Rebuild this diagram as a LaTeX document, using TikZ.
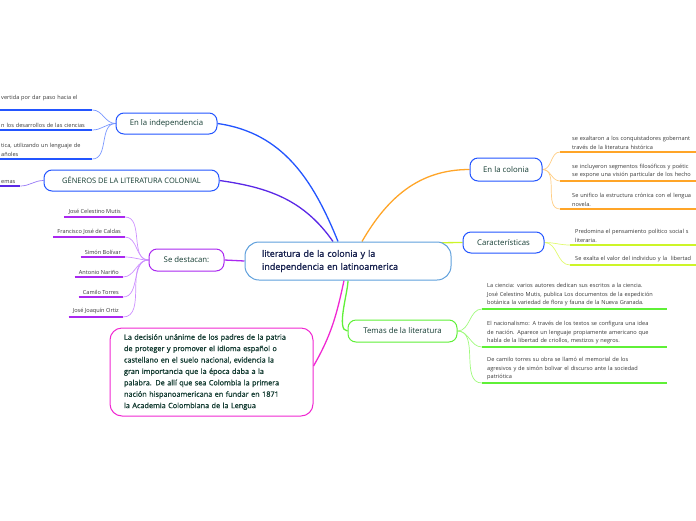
\documentclass[tikz,border=0pt]{standalone}
\usepackage{fontspec}
\setmainfont{Open Sans}
\newfontfamily\semib[FakeBold=1.2]{Open Sans}
\usetikzlibrary{positioning,backgrounds}
\definecolor{HubBlue}{RGB}{95,160,220}
\definecolor{HubText}{RGB}{25,35,80}
\definecolor{TopicText}{RGB}{20,60,50}
\definecolor{LeafText}{RGB}{55,55,55}
\definecolor{MapBlue}{RGB}{35,85,255}
\definecolor{MapBlueLight}{RGB}{120,150,255}
\definecolor{MapIndigo}{RGB}{90,40,230}
\definecolor{MapIndigoLight}{RGB}{150,120,245}
\definecolor{MapPurple}{RGB}{170,40,240}
\definecolor{MapPurpleLight}{RGB}{205,145,255}
\definecolor{MapOrange}{RGB}{255,165,40}
\definecolor{MapOrangeLight}{RGB}{255,205,130}
\definecolor{MapYellow}{RGB}{205,245,40}
\definecolor{MapYellowLight}{RGB}{225,250,110}
\definecolor{MapGreen}{RGB}{95,240,55}
\definecolor{MapGreenLight}{RGB}{160,250,125}
\definecolor{MapMagenta}{RGB}{240,40,210}

\begin{document}
\begin{tikzpicture}[x=1pt,y=-1pt,
hub/.style={rectangle,rounded corners=14pt,draw=HubBlue,line width=1pt,fill=white,text=HubText,align=left,text width=172pt,inner xsep=17pt,minimum height=38pt,font=\semib\fontsize{9}{13}\selectfont},
box/.style={rectangle,rounded corners=8pt,line width=1pt,fill=white,text=TopicText,minimum height=21pt,inner xsep=0pt,font=\fontsize{7.8}{10}\selectfont},
leaf/.style={inner xsep=4pt,inner ysep=2.5pt,text=LeafText,font=\fontsize{5.6}{8.6}\selectfont},
under/.style={line width=1.4pt},
link/.style={line width=0.7pt},
main/.style={line width=1.3pt}]
\useasboundingbox (0,0) rectangle (696,520);

% centre and topics
\node[hub] (lit) at (348,261) {literatura de la colonia y la\\independencia en latinoamerica};
\node[box,draw=MapBlue,minimum width=101pt] (indep) at (166.5,123.5) {En la independencia};
\node[box,draw=MapBlue,minimum width=175pt,font=\fontsize{7.5}{10}\selectfont] (gen) at (131.5,180.5) {GÉNEROS DE LA LITERATURA COLONIAL};
\node[box,draw=MapPurple,minimum width=75pt,minimum height=22pt] (dest) at (186.5,260) {Se destacan:};
\node[box,draw=MapBlue,minimum width=72pt,minimum height=23pt] (col) at (506,169.5) {En la colonia};
\node[box,draw=MapBlue,minimum width=81pt] (car) at (503.5,242.5) {Características};
\node[box,draw=MapGreen,minimum width=109pt,minimum height=22pt] (tem) at (402.5,331) {Temas de la literatura};
\node[box,draw=MapMagenta,rounded corners=12pt,minimum width=203pt,minimum height=88pt,inner xsep=14pt,text width=175pt,align=left,font=\semib\fontsize{7.3}{11.4}\selectfont] (dec) at (211.5,372)
{La decisión unánime de los padres de la patria\\de proteger y promover el idioma español o\\castellano en el suelo nacional, evidencia la\\gran importancia que la época daba a la\\palabra. De allí que sea Colombia la primera\\nación hispanoamericana en fundar en 1871\\la Academia Colombiana de la Lengua};

% left leaves
\node[leaf,anchor=south west,inner xsep=1pt,inner ysep=9pt,text width=90pt,align=left] (i1) at (0,110) {vertida por dar paso hacia el};
\node[leaf,anchor=south west,inner xsep=1pt,text width=90pt,align=left] (i2) at (0,130) {n los desarrollos de las ciencias};
\node[leaf,anchor=south west,inner xsep=1pt,text width=90pt,align=left] (i3) at (0,159) {tica, utilizando un lenguaje de\\añoles};
\node[leaf,anchor=south west,inner xsep=1pt,text width=18pt,align=left] (g1) at (0,186) {emas};

\node[leaf,anchor=south east] (s1) at (125,217) {José Celestino Mutis};
\node[leaf,anchor=south east] (s2) at (125,237) {Francisco José de Caldas};
\node[leaf,anchor=south east] (s3) at (125,257) {Simón Bolívar};
\node[leaf,anchor=south east] (s4) at (123,277) {Antonio Nariño};
\node[leaf,anchor=south east] (s5) at (123,297) {Camilo Torres};
\node[leaf,anchor=south east] (s6) at (123,317) {José Joaquín Ortiz};

% right leaves
\node[leaf,anchor=south west,inner xsep=12pt,text width=150pt,align=left] (c1) at (560,152) {se exaltaron a los conquistadores gobernant\\través de la literatura histórica};
\node[leaf,anchor=south west,inner xsep=12pt,text width=150pt,align=left] (c2) at (560,181) {se incluyeron segmentos filosóficos y poétic\\se expone una visión particular de los hecho};
\node[leaf,anchor=south west,inner xsep=12pt,text width=150pt,align=left] (c3) at (560,209) {Se unifico la estructura crónica con el lengua\\novela.};

\node[leaf,anchor=south west,inner xsep=5pt,text width=140pt,align=left] (k1) at (570,245) {Predomina el pensamiento político social s\\literaria.};
\node[leaf,anchor=south west,inner xsep=5pt,text width=140pt,align=left] (k2) at (570,265) {Se exalta el valor del individuo y la\ \ libertad};

\node[leaf,anchor=south west,inner xsep=5pt,text width=175pt,align=left] (t1) at (482,309) {La ciencia: varios autores dedican sus escritos a la ciencia.\\José Celestino Mutis, publica Los documentos de la expedición\\botánica la variedad de flora y fauna de la Nueva Granada.};
\node[leaf,anchor=south west,inner xsep=5pt,text width=175pt,align=left] (t2) at (482,347) {El nacionalismo: A través de los textos se configura una idea\\de nación. Aparece un lenguaje propiamente americano que\\habla de la libertad de criollos, mestizos y negros.};
\node[leaf,anchor=south west,inner xsep=5pt,text width=175pt,align=left] (t3) at (482,383) {De camilo torres su obra se llamó el memorial de los\\agresivos y de simón bolivar el discurso ante la sociedad\\patriótica};

\begin{scope}[on background layer]
% underlines
\foreach \l in {i1,i2,i3}{\draw[under,MapBlue] (\l.south west)--(\l.south east);}
\draw[under,MapIndigo] (g1.south west)--(g1.south east);
\foreach \l in {s1,s2,s3,s4,s5,s6}{\draw[under,MapPurple] (\l.south west)--(\l.south east);}
\foreach \l in {c1,c2,c3}{\draw[under,MapOrange] (\l.south west)--(\l.south east);}
\foreach \l in {k1,k2}{\draw[under,MapYellow] (\l.south west)--(\l.south east);}
\foreach \l in {t1,t2,t3}{\draw[under,MapGreen] (\l.south west)--(\l.south east);}
% leaf links
\foreach \l in {i1,i2,i3}{\draw[link,MapBlueLight] (\l.south east) to[out=0,in=180] (indep.west);}
\draw[link,MapIndigoLight] (g1.south east) to[out=0,in=180] (gen.west);
\foreach \l in {s1,s2,s3,s4,s5,s6}{\draw[link,MapPurpleLight] (\l.south east) to[out=0,in=180] (dest.west);}
\foreach \l in {c1,c2,c3}{\draw[link,MapOrangeLight] (col.east) to[out=0,in=180] (\l.south west);}
\foreach \l in {k1,k2}{\draw[link,MapYellowLight] (car.east) to[out=0,in=180] (\l.south west);}
\foreach \l in {t1,t2,t3}{\draw[link,MapGreenLight] (tem.east) to[out=0,in=180] (\l.south west);}
% main branches
\draw[main,MapBlue] ([xshift=-10pt]lit.north) to[out=112,in=-8] (indep.east);
\draw[main,MapIndigo] ([xshift=-15pt]lit.north) to[out=125,in=-8] (gen.east);
\draw[main,MapOrange] ([xshift=14pt]lit.north) to[out=60,in=180] (col.west);
\draw[main,MapYellow] ([xshift=-14pt]lit.10) -- (car.west);
\draw[main,MapPurple] (lit.west) -- (dest.east);
\draw[main,MapGreen] (lit.south) to[out=-90,in=180,looseness=0.6] (tem.west);
\draw[main,MapMagenta] ([xshift=-4pt]lit.south) to[out=-102,in=60] ([yshift=6pt]dec.east);
\end{scope}
\end{tikzpicture}
\end{document}
